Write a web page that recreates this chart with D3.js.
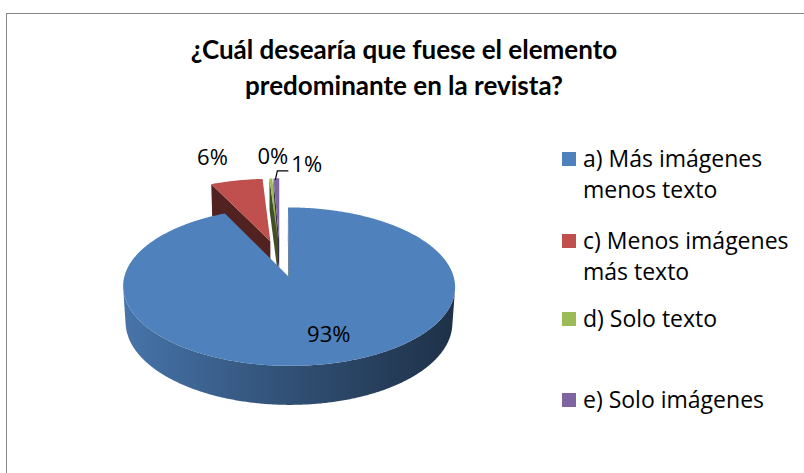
<!DOCTYPE html>
<html>
<head>
<meta charset="utf-8">
<script src="https://cdn.jsdelivr.net/npm/d3@7"></script>
<style>
  body { margin: 0; background: #fff; }
  svg { display: block; }
  text { font-family: "Open Sans", Lato, sans-serif; fill: #000; }
  .title { font-family: Lato, "Open Sans", sans-serif; }
</style>
</head>
<body>
<div class="canvas"></div>
<script>
// chart data
const titleLines = ["¿Cuál desearía que fuese el elemento", "predominante en la revista?"];
const categories = ["a) Más imágenes menos texto", "c) Menos imágenes más texto", "d) Solo texto", "e) Solo imágenes"];
const legendLines = [["a) Más imágenes", "menos texto"], ["c) Menos imágenes", "más texto"], ["d) Solo texto"], ["e) Solo imágenes"]];
const counts = [279, 18, 1, 2];
const colors = ["#4F81BD", "#C0504D", "#9BBB59", "#8064A2"];

(function () {
    const width = 804;
    const height = 473;

    const PIE_CX = 280;
    const PIE_CY = 258.5;
    const RADIUS = 160;
    const DEPTH = 40;
    const EXPLODE = 40;
    const SIN_T = 0.46;
    const COS_T = Math.sqrt(1 - SIN_T * SIN_T);
    const DIST = 1200;

    const svg = d3.select(".canvas").append("svg")
        .attr("width", width)
        .attr("height", height);
    const defs = svg.append("defs");

    // chart frame (right/bottom edge fall outside the picture)
    svg.append("rect")
        .attr("x", 6.5).attr("y", 13.5)
        .attr("width", 820).attr("height", 480)
        .attr("fill", "#fff")
        .attr("stroke", "#868686");

    // title
    svg.append("g").selectAll("text").data(titleLines).enter()
        .append("text")
        .attr("class", "title")
        .attr("x", 404)
        .attr("y", (d, i) => 58.5 + i * 36)
        .attr("text-anchor", "middle")
        .style("font-size", "26px")
        .style("font-weight", "bold")
        .text(d => d);

    // simple perspective projection, Y up, Z towards the viewer
    function project(X, Y, Z) {
        const sy = Z * SIN_T - Y * COS_T;
        const d = Z * COS_T + Y * SIN_T;
        const k = DIST / (DIST - d);
        return [PIE_CX + X * k, PIE_CY + sy * k];
    }

    const total = d3.sum(counts);
    const pct = d3.format(".0%");
    const arcs = d3.pie().sort(null).value(d => d)(counts);
    arcs.forEach((a, i) => {
        const mid = (a.startAngle + a.endAngle) / 2;
        a.index = i;
        a.mid = mid;
        a.ox = EXPLODE * Math.sin(mid);
        a.oz = -EXPLODE * Math.cos(mid);
    });

    function rim(a, ang, Y, r) {
        r = r === undefined ? RADIUS : r;
        return project(a.ox + r * Math.sin(ang), Y, a.oz - r * Math.cos(ang));
    }
    function centre(a, Y) {
        return project(a.ox, Y, a.oz);
    }
    function area(pts) {
        let s = 0;
        for (let i = 0; i < pts.length; i++) {
            const p = pts[i], q = pts[(i + 1) % pts.length];
            s += p[0] * q[1] - q[0] * p[1];
        }
        return s / 2;
    }
    const line = d3.line();
    const shade = (c, f) => d3.interpolateRgb("#000", c)(f);

    const pieG = svg.append("g");
    const order = arcs.slice().sort((a, b) => a.oz - b.oz);
    const STEP = Math.PI / 360;

    order.forEach(a => {
        const g = pieG.append("g");
        const col = colors[a.index];

        // radial faces
        const startFace = [centre(a, 0), rim(a, a.startAngle, 0), rim(a, a.startAngle, -DEPTH), centre(a, -DEPTH)];
        const endFace = [centre(a, 0), centre(a, -DEPTH), rim(a, a.endAngle, -DEPTH), rim(a, a.endAngle, 0)];
        [startFace, endFace].forEach(f => {
            if (area(f) < 0) {
                g.append("path")
                    .attr("d", line(f) + "Z")
                    .attr("fill", shade(col, 0.42));
            }
        });

        // outer wall: gather visible runs of segments
        const n = Math.max(1, Math.ceil((a.endAngle - a.startAngle) / STEP));
        const angs = d3.range(n + 1).map(j => a.startAngle + (a.endAngle - a.startAngle) * j / n);
        const runs = [];
        let cur = null;
        for (let j = 0; j < n; j++) {
            const a1 = angs[j], a2 = angs[j + 1];
            const q = [rim(a, a1, 0), rim(a, a2, 0), rim(a, a2, -DEPTH), rim(a, a1, -DEPTH)];
            if (area(q) < 0) {
                if (!cur) { cur = [a1]; runs.push(cur); }
                cur.push(a2);
            } else {
                cur = null;
            }
        }
        if (runs.length) {
            const gx0 = rim(a, 1.5 * Math.PI, 0)[0];
            const gx1 = rim(a, 0.5 * Math.PI, 0)[0];
            const gid = "wall" + a.index;
            const grad = defs.append("linearGradient")
                .attr("id", gid)
                .attr("gradientUnits", "userSpaceOnUse")
                .attr("x1", gx0).attr("y1", 0)
                .attr("x2", gx1).attr("y2", 0);
            grad.selectAll("stop").data([[0, 0.9], [0.5, 0.62], [1, 0.38]]).enter()
                .append("stop")
                .attr("offset", d => d[0])
                .attr("stop-color", d => shade(col, d[1]));
            runs.forEach(run => {
                const pts = run.map(t => rim(a, t, 0))
                    .concat(run.slice().reverse().map(t => rim(a, t, -DEPTH)));
                g.append("path")
                    .attr("d", line(pts) + "Z")
                    .attr("fill", "url(#" + gid + ")");
            });
        }

        // top face
        const top = [centre(a, 0)].concat(angs.map(t => rim(a, t, 0)));
        g.append("path")
            .attr("d", line(top) + "Z")
            .attr("fill", col);
    });

    // data labels
    const labelG = svg.append("g").style("font-size", "22px");
    const inside = arcs.filter(a => a.value / total > 0.5);
    const outside = arcs.filter(a => a.value / total <= 0.5);

    inside.forEach(a => {
        const p = rim(a, a.mid, 0, RADIUS * 0.62);
        labelG.append("text")
            .attr("x", p[0] + 15)
            .attr("y", p[1] + 14)
            .attr("text-anchor", "middle")
            .text(pct(a.value / total));
    });

    // outside label nudges: [dx, dy] from the rim point at the slice middle
    const labelNudge = { 1: [-24, -16], 2: [2, -14], 3: [15, -6] };
    outside.forEach(a => {
        const p = rim(a, a.mid, 0);
        const nd = labelNudge[a.index];
        const leader = a.index === 3;
        labelG.append("text")
            .attr("x", p[0] + nd[0])
            .attr("y", p[1] + nd[1])
            .attr("text-anchor", leader ? "start" : "middle")
            .text(pct(a.value / total));
        if (leader) {
            labelG.append("path")
                .attr("d", line([[p[0] - 1, p[1] + 1.5], [p[0] + 1, p[1] - 7.5], [p[0] + 12, p[1] - 7.5]]))
                .attr("fill", "none")
                .attr("stroke", "#000")
                .attr("stroke-width", 1.2);
        }
    });

    // legend
    const legend = svg.append("g").selectAll("g").data(categories).enter()
        .append("g")
        .attr("transform", (d, i) => "translate(562," + [152, 234, 312, 393][i] + ")");
    legend.append("rect")
        .attr("width", 14).attr("height", 14)
        .attr("fill", (d, i) => colors[i]);
    legend.selectAll("text").data((d, i) => legendLines[i]).enter()
        .append("text")
        .attr("x", 21)
        .attr("y", (d, j) => 14.5 + j * 31.5)
        .style("font-size", "23px")
        .text(d => d);
})();
</script>
</body>
</html>
